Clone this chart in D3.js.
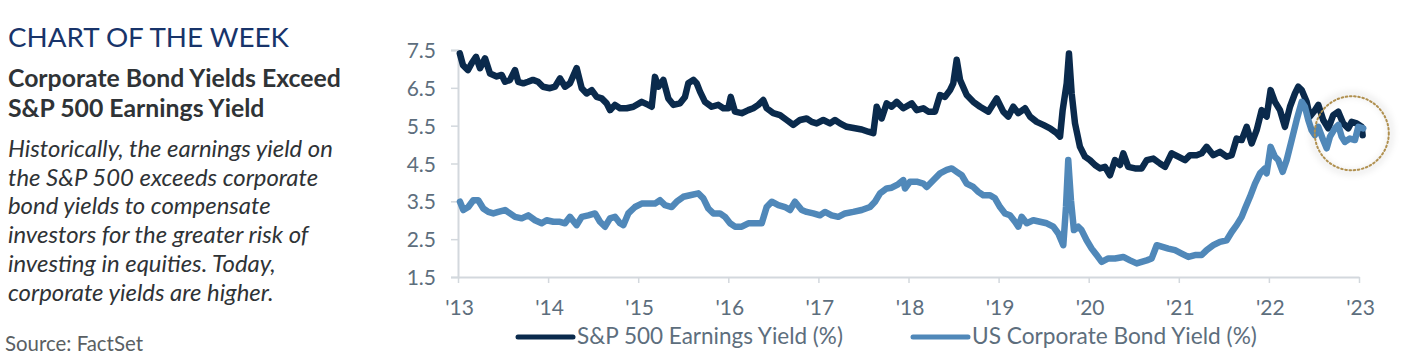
<!DOCTYPE html>
<html>
<head>
<meta charset="utf-8">
<script src="https://cdn.jsdelivr.net/npm/d3@7"></script>
<style>
  html, body { margin: 0; padding: 0; background: #fff; }
  svg { display: block; }
</style>
</head>
<body>
<svg id="chart" width="1407" height="355"></svg>
<script>
// ---------------- DATA ----------------
const seriesNames = ["S&P 500 Earnings Yield (%)", "US Corporate Bond Yield (%)"];
const yTicks = [1.5, 2.5, 3.5, 4.5, 5.5, 6.5, 7.5];
const xTicks = [2013, 2014, 2015, 2016, 2017, 2018, 2019, 2020, 2021, 2022, 2023];
const xTickLabels = ["'13", "'14", "'15", "'16", "'17", "'18", "'19", "'20", "'21", "'22", "'23"];

const spYears = [
  2013.02,2013.055,2013.111,2013.152,2013.2,2013.244,2013.3,2013.355,2013.43,2013.485,2013.522,2013.577,2013.633,2013.669,2013.725,2013.777,2013.832,2013.888,2013.943,
  2014.021,2014.077,2014.132,2014.188,2014.243,2014.317,2014.373,2014.428,2014.484,2014.539,2014.595,2014.65,2014.687,2014.742,2014.798,2014.872,2014.946,
  2015.039,2015.112,2015.15,2015.186,2015.223,2015.279,2015.334,2015.39,2015.464,2015.519,2015.556,2015.612,2015.649,2015.686,2015.741,2015.816,2015.889,2015.945,
  2016.0,2016.027,2016.074,2016.149,2016.222,2016.277,2016.333,2016.388,2016.426,2016.499,2016.574,2016.648,2016.721,2016.796,2016.87,2016.926,2016.981,
  2017.054,2017.129,2017.184,2017.24,2017.314,2017.406,2017.481,2017.554,2017.609,2017.647,2017.702,2017.758,2017.813,2017.869,2017.942,
  2018.036,2018.091,2018.164,2018.22,2018.294,2018.35,2018.405,2018.461,2018.497,2018.535,2018.572,2018.646,2018.719,2018.794,2018.886,2018.979,
  2019.052,2019.108,2019.163,2019.219,2019.293,2019.349,2019.423,2019.496,2019.571,2019.645,2019.682,2019.711,2019.756,2019.781,2019.811,2019.848,2019.903,2019.959,
  2020.014,2020.07,2020.125,2020.181,2020.236,2020.292,2020.347,2020.384,2020.439,2020.514,2020.588,2020.644,2020.717,2020.791,2020.847,2020.921,2020.994,
  2021.069,2021.124,2021.198,2021.254,2021.309,2021.383,2021.457,2021.531,2021.587,2021.642,2021.698,2021.753,2021.809,2021.864,2021.92,2021.975,
  2022.019,2022.067,2022.123,2022.178,2022.234,2022.289,2022.326,2022.364,2022.419,2022.455,2022.511,2022.548,2022.603,2022.659,2022.714,2022.77,2022.825,2022.881,2022.918,2022.974,2023.029,2023.04
];
const spValues = [
  7.41,7.10,6.97,7.15,7.32,7.02,7.28,6.88,6.80,6.84,6.66,6.71,6.97,6.66,6.62,6.66,6.71,6.66,6.53,
  6.49,6.53,6.75,6.53,6.62,7.02,6.49,6.35,6.44,6.26,6.22,6.09,5.91,6.05,5.96,5.96,6.00,
  6.13,6.05,6.00,6.79,6.53,6.71,6.22,6.05,6.09,6.26,6.62,6.71,6.62,6.40,6.13,6.00,6.05,5.96,
  5.96,6.26,5.87,5.83,5.91,5.96,6.05,6.18,5.96,5.83,5.78,5.65,5.52,5.65,5.69,5.60,5.56,
  5.65,5.56,5.65,5.56,5.47,5.43,5.40,5.34,5.30,6.00,5.69,6.09,6.00,6.13,5.96,
  6.09,5.91,5.96,5.87,5.87,6.31,6.26,6.44,6.62,7.24,6.71,6.31,6.13,6.00,5.87,6.22,
  5.87,5.74,6.00,5.83,5.96,5.74,5.60,5.52,5.43,5.30,5.21,5.91,6.62,7.41,6.35,5.56,4.94,4.68,
  4.59,4.46,4.37,4.41,4.19,4.59,4.46,4.77,4.41,4.37,4.37,4.59,4.63,4.50,4.41,4.77,4.68,
  4.59,4.72,4.72,4.77,4.94,4.72,4.81,4.68,4.72,5.16,5.12,5.47,5.03,5.38,5.91,5.74,
  6.44,6.13,5.91,5.47,6.00,6.35,6.53,6.44,6.13,5.74,5.91,6.05,5.65,5.43,5.78,5.87,5.56,5.43,5.60,5.56,5.47,5.25
];

const corpYears = [
  2013.022,2013.059,2013.114,2013.17,2013.225,2013.281,2013.336,2013.392,2013.447,2013.522,2013.577,2013.633,2013.707,2013.78,2013.855,2013.929,2013.984,
  2014.058,2014.132,2014.188,2014.243,2014.317,2014.373,2014.446,2014.521,2014.576,2014.632,2014.687,2014.742,2014.798,2014.835,2014.89,2014.964,
  2015.039,2015.112,2015.186,2015.242,2015.297,2015.372,2015.427,2015.501,2015.575,2015.667,2015.723,2015.778,2015.834,2015.908,2015.963,
  2016.019,2016.074,2016.149,2016.222,2016.296,2016.371,2016.426,2016.482,2016.555,2016.629,2016.685,2016.74,2016.815,2016.87,2016.943,
  2017.018,2017.073,2017.147,2017.221,2017.295,2017.387,2017.481,2017.573,2017.628,2017.684,2017.758,2017.813,2017.884,2017.942,2017.961,
  2018.017,2018.091,2018.164,2018.202,2018.275,2018.35,2018.424,2018.48,2018.535,2018.591,2018.646,2018.719,2018.775,2018.83,2018.905,2018.96,
  2019.016,2019.071,2019.126,2019.182,2019.219,2019.256,2019.312,2019.385,2019.459,2019.534,2019.607,2019.663,2019.718,2019.748,2019.773,2019.803,2019.836,2019.884,2019.921,2019.977,
  2020.033,2020.088,2020.144,2020.218,2020.292,2020.384,2020.459,2020.533,2020.588,2020.644,2020.699,2020.755,2020.81,2020.884,2020.958,
  2021.032,2021.106,2021.18,2021.254,2021.309,2021.383,2021.457,2021.531,2021.587,2021.642,2021.698,2021.735,2021.79,2021.846,2021.901,2021.957,2021.975,
  2022.019,2022.067,2022.104,2022.153,2022.197,2022.253,2022.308,2022.364,2022.4,2022.437,2022.474,2022.511,2022.548,2022.603,2022.641,2022.678,2022.733,2022.77,2022.807,2022.844,2022.899,2022.955,2022.992,2023.047
];
const corpValues = [
  3.49,3.27,3.35,3.53,3.53,3.31,3.22,3.18,3.22,3.27,3.18,3.09,3.05,3.13,3.00,2.92,3.00,
  2.96,2.96,2.92,3.09,2.87,3.09,3.13,3.18,2.96,2.83,3.05,3.09,2.92,2.87,3.18,3.35,
  3.44,3.44,3.44,3.53,3.40,3.35,3.49,3.62,3.66,3.71,3.58,3.31,3.18,3.18,3.09,
  2.92,2.83,2.83,2.92,2.92,2.92,3.35,3.49,3.40,3.35,3.27,3.49,3.27,3.22,3.18,
  3.13,3.22,3.13,3.09,3.18,3.22,3.27,3.35,3.49,3.71,3.84,3.86,3.95,4.06,3.84,
  4.02,4.02,3.97,3.88,4.06,4.24,4.33,4.37,4.28,4.19,3.97,3.88,3.75,3.66,3.66,3.58,
  3.35,3.18,3.13,2.96,2.83,3.09,2.92,3.00,2.96,2.92,2.83,2.65,2.34,3.35,4.59,3.53,2.74,2.83,2.74,2.47,
  2.25,2.08,1.90,1.99,1.99,2.03,1.94,1.86,1.90,1.94,1.99,2.34,2.30,2.25,2.21,
  2.12,2.03,2.08,2.08,2.21,2.34,2.43,2.47,2.69,2.87,3.09,3.31,3.62,3.97,4.24,4.37,4.24,
  4.94,4.68,4.59,4.28,4.59,5.12,5.65,6.13,6.00,5.65,5.38,5.25,5.47,5.12,4.90,5.21,5.43,5.52,5.21,5.07,5.16,5.12,5.47,5.43
];

// annotation (highlight of latest readings)
const highlightCenter = [2022.92, 5.3];

// ---------------- STYLE ----------------
const colors = { sp: "#0a2a4c", corp: "#5088b9", axis: "#d3d8dd", tickText: "#5d6e7d",
                 title: "#18346a", body: "#2f3336", source: "#5a5f63", ring: "#b0904f" };

const svg = d3.select("#chart");
const font = "Lato, 'Source Sans Pro', 'Open Sans', sans-serif";

const x = d3.scaleLinear().domain([2013, 2023]).range([458, 1359]);
const y = d3.scaleLinear().domain([1.5, 7.5]).range([277, 50]);

// defs
const defs = svg.append("defs");
const blur = defs.append("filter").attr("id", "soft").attr("x", "-50%").attr("y", "-50%").attr("width", "200%").attr("height", "200%");
blur.append("feGaussianBlur").attr("stdDeviation", 3);

// ---------------- LEFT TEXT ----------------
function fit(sel, target) {
  const m = sel.node().getComputedTextLength();
  const fs = parseFloat(sel.attr("font-size"));
  return fs * target / m;
}

const title = svg.append("text").attr("x", 8).attr("y", 46.5)
  .attr("font-family", font).attr("font-size", 30).attr("font-weight", 400)
  .attr("fill", colors.title).text("CHART OF THE WEEK");
title.attr("font-size", fit(title, 281));

const headLines = ["Corporate Bond Yields Exceed", "S&P 500 Earnings Yield"];
const heads = svg.append("g").selectAll("text").data(headLines).join("text")
  .attr("x", 8).attr("y", (d, i) => 87 + i * 29.5)
  .attr("font-family", font).attr("font-size", 22).attr("font-weight", 700)
  .attr("fill", colors.body).text(d => d);
const hfs = fit(d3.select(heads.nodes()[0]), 333);
heads.attr("font-size", hfs);

const bodyLines = ["Historically, the earnings yield on", "the S&P 500 exceeds corporate",
  "bond yields to compensate", "investors for the greater risk of",
  "investing in equities. Today,", "corporate yields are higher."];
const body = svg.append("g").selectAll("text").data(bodyLines).join("text")
  .attr("x", 8).attr("y", (d, i) => 157 + i * 28.7)
  .attr("font-family", font).attr("font-size", 21).attr("font-style", "italic")
  .attr("fill", colors.body).text(d => d);
const bfs = fit(d3.select(body.nodes()[0]), 325);
body.attr("font-size", bfs);

const src = svg.append("text").attr("x", 5).attr("y", 350.5)
  .attr("font-family", font).attr("font-size", 19).attr("fill", colors.source).text("Source: FactSet");
src.attr("font-size", fit(src, 138));

// ---------------- AXES ----------------
const yAxis = svg.append("g").attr("transform", `translate(${x(2013)},0)`)
  .call(d3.axisLeft(y).tickValues(yTicks).tickFormat(d3.format(".1f")).tickSize(7).tickPadding(15));
yAxis.select(".domain").attr("stroke", colors.axis).attr("stroke-width", 2);
yAxis.selectAll(".tick line").attr("stroke", colors.axis).attr("stroke-width", 1.5);
yAxis.selectAll(".tick text").attr("font-family", font).attr("font-size", 21)
  .attr("fill", colors.tickText).attr("dy", "0.36em");

const xAxis = svg.append("g").attr("transform", `translate(0,${y(1.5)})`)
  .call(d3.axisBottom(x).tickValues(xTicks).tickFormat((d, i) => xTickLabels[i]).tickSize(6).tickSizeOuter(0));
xAxis.select(".domain").attr("stroke", colors.axis).attr("stroke-width", 2);
xAxis.selectAll(".tick line").attr("stroke", colors.axis).attr("stroke-width", 1.5);
xAxis.selectAll(".tick text").attr("font-family", font).attr("font-size", 21)
  .attr("fill", colors.tickText).attr("y", 38).attr("dy", 0).attr("dx", 1);

// ---------------- LINES ----------------
const line = d3.line().x(d => x(d[0])).y(d => y(d[1])).curve(d3.curveLinear);
const spData = d3.zip(spYears, spValues);
const corpData = d3.zip(corpYears, corpValues);

svg.append("path").datum(spData).attr("d", line)
  .attr("fill", "none").attr("stroke", colors.sp).attr("stroke-width", 6.5)
  .attr("stroke-linejoin", "round").attr("stroke-linecap", "round");
svg.append("path").datum(corpData).attr("d", line)
  .attr("fill", "none").attr("stroke", colors.corp).attr("stroke-width", 6.5)
  .attr("stroke-linejoin", "round").attr("stroke-linecap", "round");

// ---------------- HIGHLIGHT RING ----------------
const cx = x(highlightCenter[0]), cy = y(highlightCenter[1]);
svg.append("circle").attr("cx", cx).attr("cy", cy).attr("r", 39)
  .attr("fill", "none").attr("stroke", "#000").attr("stroke-opacity", 0.07)
  .attr("stroke-width", 6).attr("filter", "url(#soft)");
svg.append("circle").attr("cx", cx).attr("cy", cy).attr("r", 37)
  .attr("fill", "none").attr("stroke", colors.ring).attr("stroke-width", 2)
  .attr("stroke-dasharray", "1.6 2.6").attr("stroke-linecap", "round");

// ---------------- LEGEND ----------------
const legendX = [518, 913];
const legendColors = [colors.sp, colors.corp];
const legendW = [266, 285];
const lg = svg.append("g");
seriesNames.forEach((name, i) => {
  lg.append("line").attr("x1", legendX[i]).attr("x2", legendX[i] + 55)
    .attr("y1", 337).attr("y2", 337).attr("stroke", legendColors[i])
    .attr("stroke-width", 5).attr("stroke-linecap", "round");
  const t = lg.append("text").attr("x", legendX[i] + 59).attr("y", 343.5)
    .attr("font-family", font).attr("font-size", 20).attr("fill", colors.tickText).text(name);
  t.attr("font-size", fit(t, legendW[i]));
});
</script>
</body>
</html>
